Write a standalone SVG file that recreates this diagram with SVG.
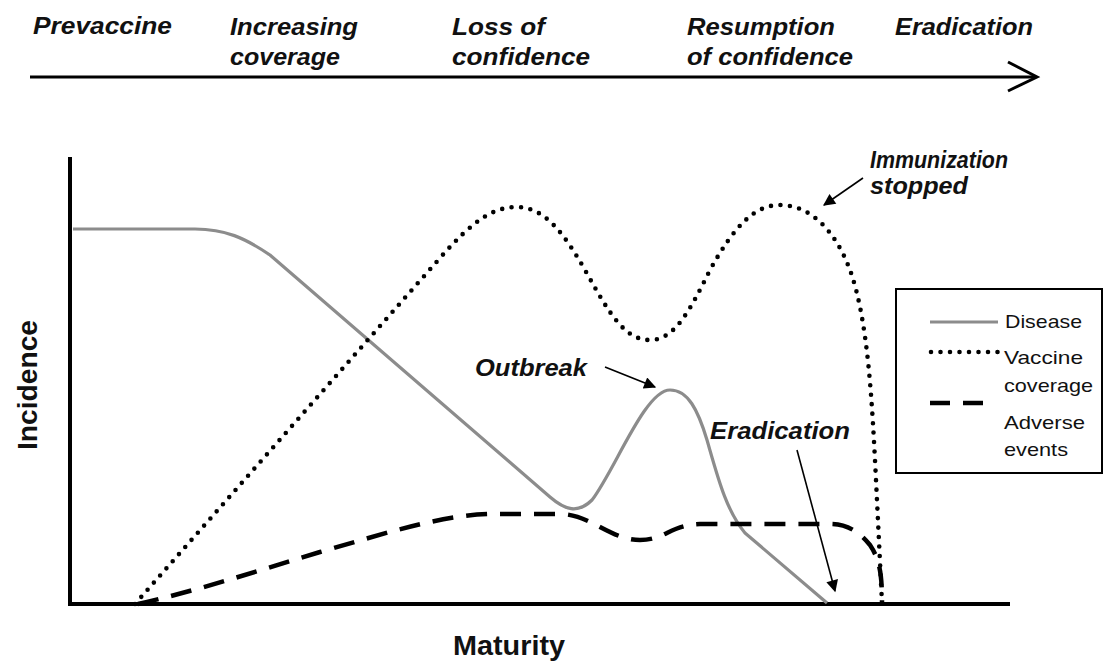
<svg xmlns="http://www.w3.org/2000/svg" width="1103" height="661" viewBox="0 0 1103 661">
<style>
.bi{font-family:"Liberation Sans",Arial,sans-serif;font-weight:bold;font-style:italic;font-size:23px;fill:#111}
.b{font-family:"Liberation Sans",Arial,sans-serif;font-weight:bold;font-size:28px;fill:#111}
.r{font-family:"Liberation Sans",Arial,sans-serif;font-size:19px;fill:#111}
.axis{stroke:#000;stroke-width:4;fill:none}
.disease{stroke:#8c8c8c;stroke-width:3.2;fill:none;stroke-linejoin:round}
.vacc{stroke:#000;stroke-width:4.6;fill:none;stroke-dasharray:0 9.5;stroke-linecap:round}
.adv{stroke:#000;stroke-width:4.5;fill:none;stroke-dasharray:21 13}
.ptr{stroke:#000;stroke-width:1.6;fill:none}
</style>
<defs>
<marker id="ahb" viewBox="0 0 10 10" refX="9" refY="5" markerWidth="16" markerHeight="12" markerUnits="userSpaceOnUse" orient="auto">
<path d="M0,0 L10,5 L0,10 z" fill="#000"/>
</marker>
</defs>
<rect width="1103" height="661" fill="#fff"/>

<g id="timeline">
<line x1="30" y1="77" x2="1036" y2="77" stroke="#000" stroke-width="3"/>
<polyline points="1008,62 1037,77 1008,91" stroke="#000" stroke-width="3" fill="none"/>
<text class="bi" x="33" y="34" textLength="139" lengthAdjust="spacingAndGlyphs">Prevaccine</text>
<text class="bi" x="230" y="35" textLength="128" lengthAdjust="spacingAndGlyphs">Increasing</text>
<text class="bi" x="230" y="65" textLength="110" lengthAdjust="spacingAndGlyphs">coverage</text>
<text class="bi" x="452" y="35" textLength="93" lengthAdjust="spacingAndGlyphs">Loss of</text>
<text class="bi" x="452" y="65" textLength="138" lengthAdjust="spacingAndGlyphs">confidence</text>
<text class="bi" x="687" y="35" textLength="148" lengthAdjust="spacingAndGlyphs">Resumption</text>
<text class="bi" x="687" y="65" textLength="166" lengthAdjust="spacingAndGlyphs">of confidence</text>
<text class="bi" x="895" y="35" textLength="138" lengthAdjust="spacingAndGlyphs">Eradication</text>
</g>

<g id="axes">
<line class="axis" x1="70" y1="157" x2="70" y2="606"/>
<line class="axis" x1="68" y1="604" x2="1010" y2="604"/>
<text class="b" x="453" y="655" textLength="112" lengthAdjust="spacingAndGlyphs">Maturity</text>
<text class="b" transform="translate(37,385) rotate(-90)" text-anchor="middle" textLength="130" lengthAdjust="spacingAndGlyphs">Incidence</text>
</g>

<g id="curves">
<path id="disease" class="disease" d="M73,229 L195,229 C225,229 245,238 270,255 L550,497 C565,510 578,514 592,500 C615,470 645,390 670,390 C688,390 698,410 707,440 C718,478 726,510 745,533 L827,603"/>
<path id="vaccine" class="vacc" d="M135,604 L440,258 C475,218 495,207 517,207 C545,207 565,235 585,270 C610,315 625,340 650,340 C675,340 690,310 710,270 C735,225 755,205 780,205 C810,205 835,230 850,270 C868,320 872,400 876,480 L882,603"/>
<path id="adverse" class="adv" d="M138,604 C200,590 260,570 320,552 C380,535 440,515 490,514 L560,514 C590,514 610,540 640,540 C665,540 670,525 700,524 L830,524 C850,524 862,535 870,545 C880,560 882,575 882,603"/>
</g>

<g id="annotations">
<g id="immunization">
<text class="bi" x="870" y="168" textLength="138" lengthAdjust="spacingAndGlyphs">Immunization</text>
<text class="bi" x="870" y="194" textLength="98" lengthAdjust="spacingAndGlyphs">stopped</text>
</g>
<g id="outbreak">
<text class="bi" x="475" y="376" textLength="112" lengthAdjust="spacingAndGlyphs">Outbreak</text>
</g>
<g id="eradication">
<text class="bi" x="710" y="439" textLength="140" lengthAdjust="spacingAndGlyphs">Eradication</text>
</g>
</g>

<g id="connectors">
<line class="ptr" x1="863" y1="178" x2="824" y2="205" marker-end="url(#ahb)"/>
<line class="ptr" x1="605" y1="367" x2="655" y2="387" marker-end="url(#ahb)"/>
<line class="ptr" x1="797" y1="450" x2="835" y2="591" marker-end="url(#ahb)"/>
</g>

<g id="legend">
<rect x="896" y="289" width="206" height="184" fill="#fff" stroke="#000" stroke-width="2"/>
<line class="disease" x1="930" y1="322" x2="998" y2="322"/>
<line class="vacc" x1="931" y1="352" x2="998" y2="352"/>
<line stroke="#000" stroke-width="4.5" x1="930" y1="403" x2="950" y2="403"/>
<line stroke="#000" stroke-width="4.5" x1="963" y1="403" x2="983" y2="403"/>
<text class="r" x="1005" y="328" textLength="77" lengthAdjust="spacingAndGlyphs">Disease</text>
<text class="r" x="1004" y="364" textLength="79" lengthAdjust="spacingAndGlyphs">Vaccine</text>
<text class="r" x="1004" y="392" textLength="89" lengthAdjust="spacingAndGlyphs">coverage</text>
<text class="r" x="1004" y="429" textLength="81" lengthAdjust="spacingAndGlyphs">Adverse</text>
<text class="r" x="1004" y="456" textLength="64" lengthAdjust="spacingAndGlyphs">events</text>
</g>
</svg>
